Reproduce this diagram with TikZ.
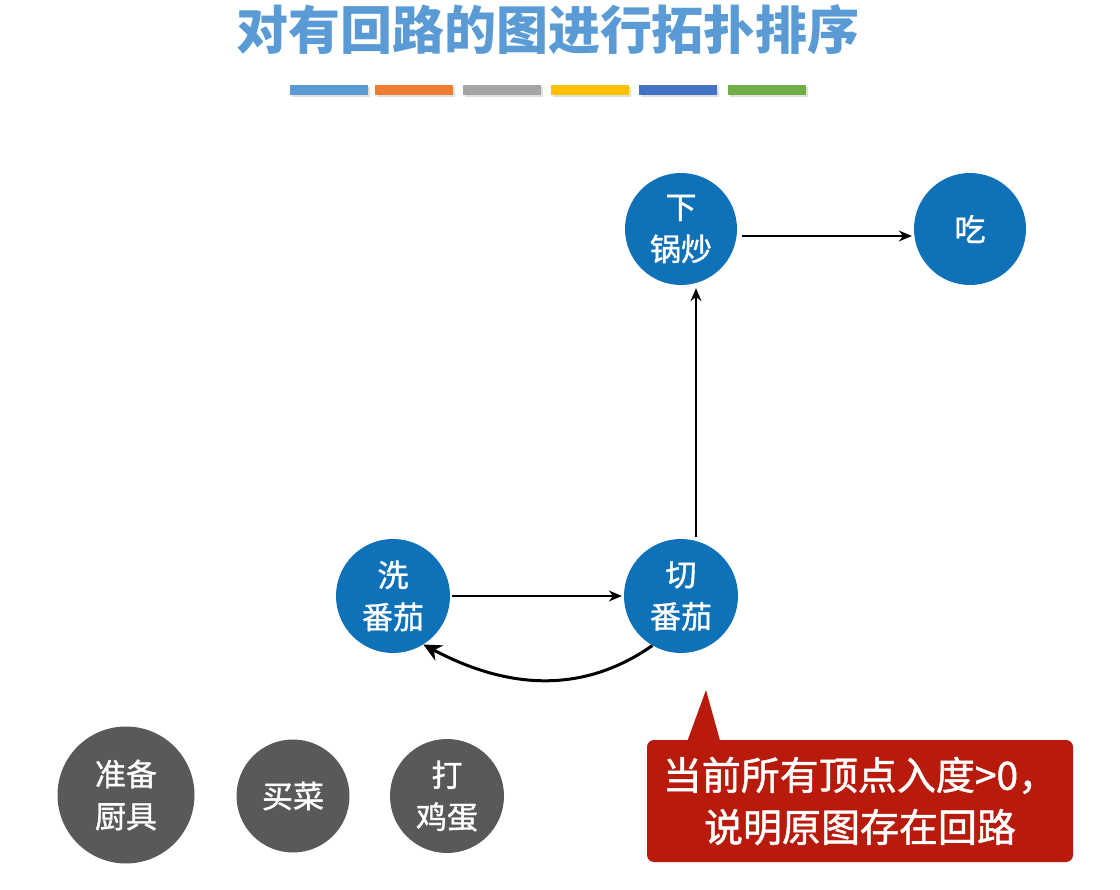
\documentclass[tikz,border=0pt]{standalone}
\usepackage{fontspec}
\newfontfamily\cjk{Noto Sans CJK SC}
\newfontfamily\cjkm[FakeBold=1.2]{Noto Sans CJK SC}
\usetikzlibrary{arrows.meta}
\definecolor{tblue}{HTML}{5B9BD5}
\definecolor{nblue}{HTML}{0F71B7}
\definecolor{ngray}{HTML}{595959}
\definecolor{cred}{HTML}{B81A0B}
\definecolor{b1}{HTML}{5B9BD5}
\definecolor{b2}{HTML}{ED7D31}
\definecolor{b3}{HTML}{A5A5A5}
\definecolor{b4}{HTML}{FFC000}
\definecolor{b5}{HTML}{4472C4}
\definecolor{b6}{HTML}{70AD47}
\tikzset{
  bluenode/.style={circle,fill=nblue,text=white,inner sep=0pt,minimum size=#1,align=center,
     font=\cjkm\fontsize{31}{42}\selectfont},
  graynode/.style={circle,fill=ngray,text=white,inner sep=0pt,minimum size=#1,align=center,
     font=\cjkm\fontsize{31}{42}\selectfont},
  edge/.style={draw=black,line width=1.6pt,-{Stealth[length=13pt,width=11pt]}},
  backedge/.style={draw=black,line width=3pt,-{Stealth[length=18pt,width=17pt]}},
  barstyle/.style={fill=#1,draw=none},
}
\begin{document}
\begin{tikzpicture}[x=1pt,y=-1pt]
\useasboundingbox (0,0) rectangle (1120,890);
% title
\node[text=tblue,font=\cjk\bfseries\fontsize{52}{56}\selectfont] (title) at (548,30) {对有回路的图进行拓扑排序};
% colour bars with faint shadow
\foreach \x/\c in {290/b1,375/b2,463/b3,551/b4,639/b5,728/b6}{
  \fill[black!12] (\x+1.5,87.5) rectangle (\x+79.5,97.5);
  \fill[barstyle=\c] (\x,85) rectangle (\x+78,95);
}
% nodes
\node[bluenode=112pt] (xia) at (681,229) {下\\锅炒};
\node[bluenode=112pt] (chi) at (970,229) {吃};
\node[bluenode=114pt] (xi) at (393,596) {洗\\番茄};
\node[bluenode=114pt] (qie) at (681,596) {切\\番茄};
\node[graynode=137pt] (zb) at (126,795) {准备\\厨具};
\node[graynode=113pt] (mc) at (293,796) {买菜};
\node[graynode=114pt] (dj) at (447,796) {打\\鸡蛋};
% edges
\draw[edge] ([shift={(5,7)}]xia.east) -- ([shift={(-2,7)}]chi.west);
\draw[edge] ([shift={(15,-2)}]qie.north) -- ([shift={(15,3)}]xia.south);
\draw[edge] ([shift={(2,0)}]xi.east) -- ([shift={(-2,0)}]qie.west);
\draw[backedge] (qie.240) to[out=215,in=-28] (xi.302);
% callout
\node[fill=cred,rounded corners=7pt,minimum width=426pt,minimum height=122pt,inner sep=0pt,
  text=white,align=center,font=\cjkm\fontsize{39}{52}\selectfont] (note) at (860,801)
  {当前所有顶点入度>0，\\说明原图存在回路};
\coordinate (tip) at (706,690);
\fill[cred] ([xshift=41pt]note.north west) -- (tip) -- ([xshift=73pt]note.north west) -- cycle;
\end{tikzpicture}
\end{document}
